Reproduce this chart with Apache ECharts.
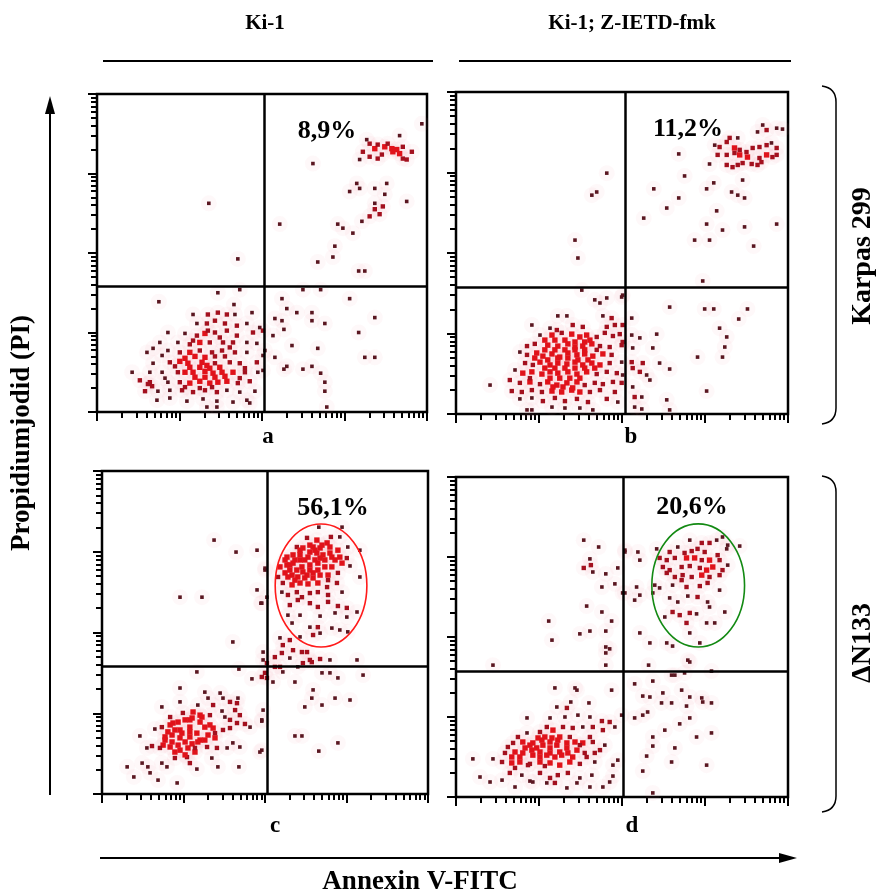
<!DOCTYPE html>
<html>
<head>
<meta charset="utf-8">
<script src="https://cdn.jsdelivr.net/npm/echarts@6/dist/echarts.min.js"></script>
<style>
  html, body { margin: 0; padding: 0; background: #fff; }
  #chart { width: 879px; height: 896px; }
</style>
</head>
<body>
<div id="chart"></div>
<script>
// events in channels: 1024 channels = 4 decades (256 per decade)
// x = Annexin V-FITC, y = Propidiumjodid
const panelLetters = ['a', 'b', 'c', 'd'];
const columnTitles = ['Ki-1', 'Ki-1; Z-IETD-fmk'];
const rowTitles = ['Karpas 299', 'ΔN133'];
const upperRightPct = ['8,9%', '11,2%', '56,1%', '20,6%'];
const quadGateX = [518, 521, 518, 515];
const quadGateY = [406, 404, 406, 403];
// ellipse gates [cx, cy, rx, ry] in channels
const gateC = [688, 661, 144, 195];
const gateD = [747, 677, 143, 197];

const cellsA = [
  [1008,928],[939,890],[837,877],[846,864],[862,848],[871,861],[893,854],[902,864],[915,848],[918,838],[930,845],[939,832],
  [949,816],[961,813],[977,838],[949,854],[825,838],[815,813],[846,822],[871,816],[884,829],[670,800],[806,736],[815,720],
  [784,710],[862,720],[899,736],[893,701],[961,678],[862,672],[862,653],[887,662],[846,630],[822,614],[877,637],[747,605],
  [763,592],[794,576],[567,605],[738,534],[347,672],[732,499],[685,483],[812,454],[831,454],[437,493],
  [639,394],[694,394],[574,365],[784,365],[589,333],[620,320],[667,320],[552,301],[574,294],[667,294],[707,285],[862,304],
  [580,266],[812,256],[546,246],[605,214],[685,205],[552,176],[831,176],[862,176],[589,147],[580,138],[639,138],[667,147],
  [694,125],[707,96],[707,67],[713,16],[521,198],[515,182],[515,134],
  [443,394],[375,384],[425,346],[192,355],[298,314],[344,314],[375,320],[403,314],[428,314],[481,320],[310,285],[341,285],
  [366,294],[397,285],[434,278],[465,285],[505,272],[220,256],[273,253],[310,246],[335,253],[366,256],[403,262],[434,246],
  [484,256],[515,262],[195,224],[251,224],[288,218],[319,224],[350,224],[391,224],[422,224],[465,224],[496,221],[174,205],
  [220,198],[257,192],[288,192],[319,198],[357,192],[388,198],[428,192],[465,192],[155,192],[202,182],[174,157],[226,160],
  [257,163],[282,157],[326,160],[341,150],[366,157],[412,160],[443,157],[496,160],[109,128],[164,128],[202,128],[251,128],
  [273,128],[298,128],[335,131],[360,125],[388,128],[422,128],[459,128],[499,128],[133,102],[164,96],[220,96],[257,96],
  [288,93],[319,99],[350,93],[375,96],[403,99],[437,93],[474,99],[149,67],[189,67],[226,70],[264,70],[298,64],[335,70],
  [372,64],[403,70],[443,64],[490,67],[186,38],[226,45],[279,35],[329,42],[372,35],[422,32],[465,38],[341,16],[372,16],
  [474,29],
  [273,173],[304,179],[335,176],[366,179],[397,179],[288,144],[319,144],[350,141],[381,144],[304,112],[335,112],[366,112],
  [397,115],[273,80],[319,77],[357,80],[242,147],[211,109],[158,90],[171,83],[412,208],[381,240],[344,262],[459,141],
  [443,109],[298,230]
];

const cellsB = [
  [946,919],[989,909],[1007,906],[930,897],[958,903],[798,855],[813,849],[835,865],[844,878],[869,878],[859,846],[875,840],
  [896,833],[915,846],[936,849],[958,855],[973,862],[989,846],[807,824],[835,824],[859,830],[875,824],[899,817],[936,814],
  [958,824],[976,817],[989,824],[835,792],[853,785],[869,792],[884,798],[912,795],[930,792],[942,801],[782,795],[687,827],
  [705,757],[884,744],[795,735],[773,716],[610,716],[687,687],[850,706],[869,696],[890,687],[650,655],[804,646],[579,623],
  [773,604],[822,585],[890,595],[989,604],[736,553],[782,553],[918,534],[761,423],[465,766],[419,696],[434,706],[367,553],
  [376,496],
  [659,340],[767,334],[795,334],[899,334],[872,302],[813,273],[835,245],[829,213],[745,181],[822,181],[773,73],[542,305],
  [542,251],[567,242],[545,210],[619,254],[607,210],[542,165],[545,146],[576,162],[567,134],[588,124],[628,162],[659,143],
  [545,86],[598,108],[551,54],[573,54],[650,45],[659,13],[551,22],[573,16],[514,378],[514,283],[514,229],[511,165],[514,124],
  [388,394],[428,363],[465,369],[511,372],[444,353],[314,312],[342,312],[453,312],[480,305],[234,283],[290,273],[311,267],
  [360,283],[391,277],[465,277],[490,283],[259,251],[296,251],[326,258],[357,254],[382,245],[403,251],[434,245],[459,258],
  [484,248],[505,254],[219,216],[243,223],[283,219],[314,216],[345,223],[367,213],[391,216],[419,223],[444,216],[474,213],
  [511,219],[197,197],[219,188],[249,194],[268,184],[296,191],[320,181],[345,194],[373,188],[397,191],[422,184],[453,191],
  [480,188],[213,162],[237,156],[259,165],[290,156],[314,162],[342,159],[367,165],[391,156],[419,162],[444,156],[474,162],
  [182,140],[206,130],[234,134],[265,127],[290,134],[314,130],[345,134],[373,127],[403,134],[434,127],[465,134],[496,130],
  [105,92],[166,108],[197,99],[228,102],[259,95],[283,102],[311,92],[342,99],[373,102],[397,92],[428,99],[453,95],[484,102],
  [511,99],[172,73],[203,70],[234,76],[265,70],[296,73],[326,70],[357,76],[382,70],[413,70],[444,76],[490,70],[197,48],
  [234,51],[268,41],[305,51],[336,41],[373,48],[407,38],[465,48],[499,38],[219,13],[234,13],[296,22],[336,19],[382,19],
  [422,13],
  [274,235],[305,235],[336,235],[367,229],[397,229],[274,204],[305,204],[336,204],[367,204],[397,204],[283,172],[314,178],
  [345,178],[376,172],[407,172],[274,146],[305,146],[336,146],[367,146],[397,146],[290,114],[320,114],[351,114],[382,114],
  [299,86],[330,86],[360,83],[413,235],[434,204],[243,178],[228,114],[428,146]
];

const cellsC = [
  [411,482],[506,425],[298,387],[430,396],[471,365],[512,384],[518,368],[245,336],[323,323],[371,320],[380,304],[402,292],
  [424,288],[427,304],[188,276],[245,292],[333,304],[301,282],[349,282],[377,263],[418,266],[433,250],[214,244],[254,257],
  [286,260],[314,244],[339,250],[386,244],[402,235],[424,225],[449,222],[465,212],[502,231],[166,206],[188,212],[223,225],
  [245,203],[276,212],[308,228],[323,212],[349,209],[380,203],[402,209],[119,184],[198,181],[220,187],[245,178],[276,181],
  [308,171],[333,187],[355,178],[411,162],[141,146],[157,152],[192,155],[214,149],[245,139],[270,146],[292,133],[330,149],
  [361,146],[393,146],[433,149],[496,133],[229,114],[267,117],[345,114],[79,86],[126,98],[144,86],[188,98],[204,86],
  [276,98],[298,79],[364,86],[430,86],[100,54],[151,67],[176,44],[236,35],
  [198,171],[220,165],[239,155],[261,165],[283,159],[301,165],[323,171],[207,197],[229,203],[251,193],[276,197],[298,193],
  [239,228],[261,235],[283,241],[308,250],[339,219],[355,193],[182,146],[229,133],[261,124],[292,146],[276,235],[214,219],
  [352,805],[421,767],[487,773],[512,710],[245,624],[314,624],[487,647],[518,624],[499,605],
  [681,846],[719,815],[747,815],[754,846],[644,812],[675,805],[707,796],[653,789],[612,783],[631,780],[663,783],[685,780],
  [716,783],[741,773],[772,783],[810,773],[581,751],[600,758],[622,758],[647,751],[675,764],[694,758],[722,751],[747,751],
  [769,748],[559,720],[581,726],[600,732],[628,720],[653,726],[678,732],[700,720],[722,720],[754,732],[779,723],[553,688],
  [575,701],[597,694],[615,688],[644,694],[663,701],[685,694],[710,694],[741,701],[810,688],[568,669],[597,663],[622,669],
  [647,666],[678,669],[707,656],[738,669],[565,640],[584,631],[612,640],[628,624],[653,637],[678,640],[710,631],[754,640],
  [590,599],[615,615],[653,605],[678,593],[710,609],[741,596],[769,590],[584,567],[622,567],[685,564],[732,574],[769,561],
  [801,577],[597,542],[653,529],[678,529],[685,510],[722,526],[747,520],[772,514],[559,495],[590,488],[622,498],[663,504],
  [568,472],[600,456],[628,450],[644,450],[543,434],[565,447],[590,431],[653,425],[685,428],[716,425],[801,425],
  [559,403],[568,387],[615,403],[631,415],[659,418],[691,384],[716,384],[741,368],[820,377],[606,355],[663,330],[659,304],
  [732,304],[691,282],[779,298],[637,276],[606,184],[628,184],[741,162],[681,136],[543,403],[537,355],
  [512,716],[502,605],[506,450],[518,415],[502,371],[506,266],[502,235],[502,139],
  [575,742],[590,726],[606,742],[622,742],[637,742],[590,710],[612,710],[631,704],[653,710],[669,742],[685,748],[700,742],
  [669,773],[691,789],[653,767],[622,773],[716,764],[732,742],[584,688],[606,678],[663,685],[637,685],[678,710],[710,678]
];

const cellsD = [
  [394,822],[440,800],[521,784],[413,762],[416,742],[394,733],[422,720],[462,714],[499,733],[490,682],[450,672],[521,653],
  [403,611],[450,592],[480,563],[286,563],[296,502],[382,522],[413,531],[462,531],[462,480],[474,474],[462,461],[114,422],
  [462,422],
  [305,349],[367,349],[373,342],[480,342],[354,304],[410,301],[311,288],[342,285],[219,253],[290,253],[336,256],[376,262],
  [413,256],[450,243],[474,240],[511,262],[191,192],[219,205],[259,208],[280,224],[299,214],[330,224],[360,221],[391,224],
  [422,224],[453,214],[490,224],[160,160],[176,173],[206,176],[237,173],[265,182],[290,176],[314,182],[342,173],[367,176],
  [391,173],[422,176],[459,166],[151,141],[182,144],[206,141],[234,150],[259,144],[290,141],[320,144],[345,141],[373,150],
  [397,141],[428,141],[52,122],[114,122],[142,112],[172,109],[197,112],[228,106],[259,112],[290,109],[320,102],[351,112],
  [382,106],[428,112],[484,102],[499,118],[74,64],[105,48],[142,54],[166,77],[203,70],[228,51],[259,77],[290,61],[314,70],
  [345,77],[382,61],[419,70],[484,67],[182,32],[237,48],[280,45],[305,45],[342,29],[373,45],[413,32],[453,32],[474,48],
  [228,166],[249,157],[268,166],[290,157],[311,166],[237,134],[259,128],[280,134],[305,128],[326,134],[253,189],[274,192],
  [296,189],[320,192],[197,128],[213,157],[342,157],[360,128],[382,166],[403,128],[222,102],[274,99],[172,128],[182,93],
  [351,192],[413,192],[444,150],
  [822,832],[804,822],[838,806],[875,803],[721,822],[758,813],[782,813],[619,794],[659,784],[684,800],[705,781],[727,787],
  [745,794],[767,784],[807,774],[835,794],[628,765],[650,758],[675,765],[711,765],[736,765],[758,758],[782,758],[813,758],
  [838,742],[638,736],[659,726],[696,736],[721,739],[752,733],[773,726],[792,736],[822,726],[650,717],[675,704],[699,710],
  [727,704],[758,710],[782,704],[813,710],[613,678],[628,669],[668,678],[696,694],[711,672],[752,675],[776,685],[813,662],
  [607,653],[659,637],[684,624],[715,643],[745,640],[776,624],[782,608],[668,592],[690,582],[721,589],[742,586],[773,557],
  [798,557],[829,592],[644,576],[711,557],[721,525],[752,493],[650,493],[668,483],[598,493],[567,525],[561,784],[567,758],
  [557,672],[567,646],[551,630],[521,790],[514,653],[715,438],[721,432],[594,422],
  [665,390],[675,390],[705,397],[788,403],[607,371],[551,362],[696,342],[638,333],[721,320],[758,317],[761,304],[788,301],
  [576,323],[598,320],[634,301],[665,301],[711,291],[576,262],[551,253],[591,272],[690,234],[721,253],[788,205],[644,214],
  [607,192],[742,192],[607,163],[675,157],[588,131],[665,112],[773,102],[576,83],[607,13]
];

const chToVal = ch => Math.pow(10, ch / 256);

// plot boxes of the four panels (px)
const boxes = [
  { left: 97, top: 94, width: 330, height: 318 },
  { left: 456, top: 92, width: 332, height: 322 },
  { left: 102, top: 471, width: 326, height: 323 },
  { left: 456, top: 477, width: 332, height: 320 }
];
const allCells = [cellsA, cellsB, cellsC, cellsD];
const ellipseGates = [null, null, { g: gateC, color: '#ff1a1a' }, { g: gateD, color: '#138a13' }];

// dot colour and size from local event density, like the cytometer's dot plot
function dots(cells) {
  return cells.map(([x, y]) => {
    let n = -1;
    cells.forEach(([u, v]) => { if ((u - x) * (u - x) + (v - y) * (v - y) < 1300) n++; });
    const level = n >= 6 ? 2 : n >= 3 ? 1 : 0;
    return {
      value: [chToVal(x), chToVal(y)],
      symbolSize: [3.6, 4.4, 5.4][level],
      itemStyle: { color: ['#5a1620', '#a3101e', '#e0121a'][level], opacity: 1 }
    };
  });
}

const axisCommon = {
  type: 'log', logBase: 10, min: 1, max: 10000,
  axisLine: { show: false },
  axisLabel: { show: false },
  splitLine: { show: false },
  axisTick: { show: true, inside: false, length: 9, lineStyle: { color: '#000', width: 2 } },
  minorTick: { show: true, splitNumber: 9, length: 6, lineStyle: { color: '#000', width: 2 } },
  minorSplitLine: { show: false }
};

const grids = [], xAxes = [], yAxes = [], series = [];
boxes.forEach((b, i) => {
  grids.push({ ...b, show: true, borderColor: '#000', borderWidth: 2.5, backgroundColor: '#fff' });
  xAxes.push({ ...axisCommon, gridIndex: i });
  yAxes.push({ ...axisCommon, gridIndex: i });
  const pts = allCells[i].map(([x, y]) => [chToVal(x), chToVal(y)]);
  series.push({
    type: 'scatter', xAxisIndex: i, yAxisIndex: i, data: pts, silent: true, z: 1,
    symbol: 'circle', symbolSize: 16, itemStyle: { color: 'rgba(245,130,160,0.06)', opacity: 1 }
  });
  series.push({
    type: 'scatter', xAxisIndex: i, yAxisIndex: i, data: dots(allCells[i]), silent: true, z: 3,
    symbol: 'rect', itemStyle: { opacity: 1 },
    markLine: {
      silent: true, symbol: 'none', animation: false,
      label: { show: false },
      lineStyle: { color: '#000', width: 2.5, type: 'solid' },
      data: [{ xAxis: chToVal(quadGateX[i]) }, { yAxis: chToVal(quadGateY[i]) }]
    }
  });
  const eg = ellipseGates[i];
  if (eg) {
    series.push({
      type: 'custom', xAxisIndex: i, yAxisIndex: i, data: [eg.g], silent: true, z: 4,
      encode: { x: 0, y: 1 },
      renderItem(params, api) {
        const cx = api.value(0), cy = api.value(1), rx = api.value(2), ry = api.value(3);
        const c = api.coord([chToVal(cx), chToVal(cy)]);
        const r = api.coord([chToVal(cx + rx), chToVal(cy + ry)]);
        return {
          type: 'ellipse',
          shape: { cx: c[0], cy: c[1], rx: r[0] - c[0], ry: c[1] - r[1] },
          style: { fill: 'none', stroke: eg.color, lineWidth: 1.6 }
        };
      }
    });
  }
});

const font = s => 'bold ' + s + 'px "Liberation Serif", "Times New Roman", serif';
const txt = (text, x, y, size, rot) => ({
  type: 'text', x, y, rotation: rot || 0, silent: true,
  style: { text, font: font(size), fill: '#000', textAlign: 'center', textVerticalAlign: 'middle' }
});
const ln = (x1, y1, x2, y2, w) => ({ type: 'line', silent: true, shape: { x1, y1, x2, y2 }, style: { stroke: '#000', lineWidth: w } });
const curve = (x1, y1, cpx1, cpy1, x2, y2) => ({
  type: 'bezierCurve', silent: true, shape: { x1, y1, cpx1, cpy1, x2, y2 },
  style: { stroke: '#000', fill: 'none', lineWidth: 1.5 }
});
// right-hand bracket for a row of panels
const bracket = (y1, y2) => [
  curve(822, y1, 836, y1 + 2, 836, y1 + 16),
  ln(836, y1 + 16, 836, y2 - 16, 1.5),
  curve(836, y2 - 16, 836, y2 - 2, 822, y2)
];

const graphic = [
  txt(columnTitles[0], 265, 24, 21),
  txt(columnTitles[1], 632, 24, 21),
  ln(103, 61, 433, 61, 2),
  ln(459, 61, 791, 61, 2),
  txt(panelLetters[0], 268, 437, 23),
  txt(panelLetters[1], 631, 437, 23),
  txt(panelLetters[2], 275, 826, 23),
  txt(panelLetters[3], 632, 826, 23),
  txt(upperRightPct[0], 327, 131, 26),
  txt(upperRightPct[1], 688, 129, 26),
  txt(upperRightPct[2], 333, 508, 26),
  txt(upperRightPct[3], 692, 507, 26),
  ln(50, 795, 50, 108, 2),
  { type: 'polygon', silent: true, shape: { points: [[50, 96], [45, 114], [55, 114]] }, style: { fill: '#000' } },
  ln(100, 858, 784, 858, 2),
  { type: 'polygon', silent: true, shape: { points: [[797, 858], [779, 853], [779, 863]] }, style: { fill: '#000' } },
  txt('Propidiumjodid (PI)', 22, 433, 27, Math.PI / 2),
  txt('Annexin V-FITC', 420, 882, 27),
  ...bracket(86, 424),
  ...bracket(476, 812),
  txt(rowTitles[0], 863, 256, 28, Math.PI / 2),
  txt(rowTitles[1], 863, 643, 28, Math.PI / 2)
];

const myChart = echarts.init(document.getElementById('chart'), null, { renderer: 'canvas' });
myChart.setOption({
  backgroundColor: '#fff',
  animation: false,
  grid: grids,
  xAxis: xAxes,
  yAxis: yAxes,
  series,
  graphic
});
</script>
</body>
</html>
